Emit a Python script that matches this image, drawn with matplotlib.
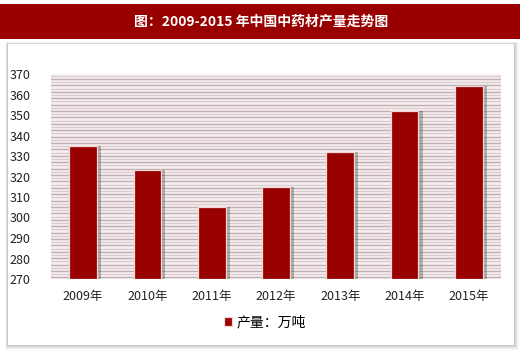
import matplotlib
matplotlib.use('Agg')
import matplotlib.pyplot as plt
import numpy as np
from matplotlib.patches import Rectangle

plt.rcParams['font.family'] = ['Noto Sans CJK SC', 'DejaVu Sans']

# ---------------------------------------------------------------------------
# Data
# ---------------------------------------------------------------------------
years = ['2009年', '2010年', '2011年', '2012年', '2013年', '2014年', '2015年']
output = [335, 323, 305, 315, 332, 352, 364]   # 万吨
y_ticks = [270, 280, 290, 300, 310, 320, 330, 340, 350, 360, 370]

title = '图：2009-2015 年中国中药材产量走势图'
legend_label = '产量：万吨'

RED = '#990000'

fig = plt.figure(figsize=(5.2, 3.51), dpi=100)
fig.patch.set_facecolor('white')

# title banner
fig.patches.append(Rectangle((0, 1 - 39 / 351), 1, 35 / 351,
                             transform=fig.transFigure, facecolor=RED,
                             edgecolor='none', zorder=-5))
fig.text(0.502, 1 - 21.5 / 351, title, color='white', fontsize=10,
         fontweight='bold', ha='center', va='center')

# white panel with soft shadow
px0, py0, pw, ph = 8 / 520, 1 - 345 / 351, 506 / 520, 301 / 351
for i, a in enumerate([0.025, 0.035, 0.045, 0.06, 0.08]):
    d = (5 - i) / 520
    dy = (5 - i) / 351
    fig.patches.append(Rectangle((px0 - d * 0.6, py0 - dy), pw + d * 1.6, ph + dy * 1.4,
                                 transform=fig.transFigure, facecolor='black',
                                 alpha=a, edgecolor='none', zorder=-4))
fig.patches.append(Rectangle((px0, py0), pw, ph, transform=fig.transFigure,
                             facecolor='white', edgecolor='none', zorder=-3))

ax = fig.add_axes([51 / 520, 1 - 279 / 351, 450 / 520, 205 / 351])
ax.set_zorder(5)
ax.set_facecolor('#f7eff0')

# striped plot background
stripes = np.arange(270.8, 370, 1.56)
for k, yv in enumerate(stripes):
    ax.axhline(yv, color='#bfaeb2' if k % 2 == 0 else '#dccdd0', lw=1.0, zorder=0)

x = np.arange(len(years))
width = 0.43
# bar shadows
ax.bar(x + 0.05, np.array(output) - 270, bottom=270, width=width + 0.03,
       color='black', alpha=0.25, zorder=1)
ax.bar(x, np.array(output) - 270, bottom=270, width=width, color=RED,
       edgecolor='#f3d6d6', linewidth=0.9, zorder=2, label=legend_label)

ax.set_ylim(270, 370)
ax.set_xlim(-0.5, len(years) - 0.5)
ax.set_yticks(y_ticks)
ax.set_xticks(x)
ax.set_xticklabels(years)
ax.tick_params(axis='both', length=0, labelsize=9, colors='#222222')
ax.tick_params(axis='y', pad=15)
ax.tick_params(axis='x', pad=8)
for s in ax.spines.values():
    s.set_visible(False)

leg = ax.legend(loc='center', bbox_to_anchor=(0.475, -0.21), frameon=False,
                fontsize=10, handlelength=0.6, handleheight=0.6,
                handletextpad=0.3)

fig.savefig('out.png', dpi=100)
